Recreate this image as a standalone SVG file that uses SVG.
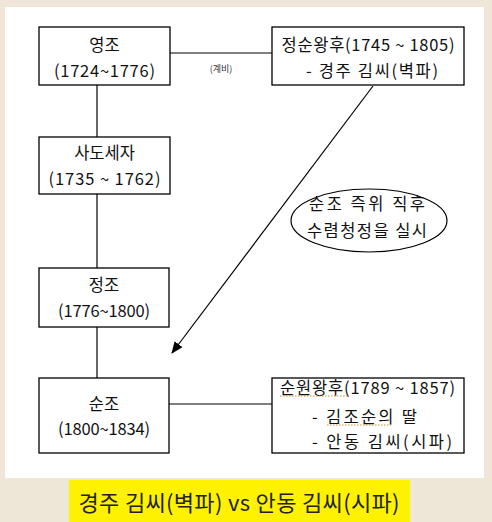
<svg xmlns="http://www.w3.org/2000/svg" width="492" height="522" viewBox="0 0 492 522">
<style>
.box{fill:#fff;stroke:#000;stroke-width:1.3}
.t{font-family:"Noto Sans CJK KR","Noto Sans",sans-serif;font-size:16.5px;fill:#111;text-anchor:middle}
.l{text-anchor:start}
.c{stroke:#000;stroke-width:1.2;fill:none}
.sq{stroke:#d08a30;stroke-width:1;stroke-dasharray:1.5 1.5;fill:none}
</style>
<defs>
<marker id="ah" markerWidth="12" markerHeight="10" refX="11" refY="5" orient="auto" markerUnits="userSpaceOnUse">
<path d="M0,0 L12,5 L0,10 Z" fill="#000"/>
</marker>
</defs>
<rect x="0" y="0" width="492" height="522" fill="#EEE6D6"/>
<rect x="5" y="7" width="479" height="471" fill="#fff"/>
<rect x="69" y="480" width="341" height="42" fill="#FFF200"/>
<text x="239" y="511" style="font-family:'Noto Sans CJK KR','Noto Sans',sans-serif;font-size:22px;fill:#222;text-anchor:middle" textLength="321">경주 김씨(벽파) vs 안동 김씨(시파)</text>

<g id="connectors">
<line class="c" x1="170" y1="53" x2="272" y2="53"/>
<line class="c" x1="97" y1="85" x2="97" y2="137"/>
<line class="c" x1="97" y1="194" x2="97" y2="268"/>
<line class="c" x1="97" y1="327" x2="97" y2="378"/>
<line class="c" x1="169" y1="404" x2="272" y2="404"/>
<line class="c" x1="373" y1="86" x2="172" y2="353" marker-end="url(#ah)"/>
<text x="221" y="72" style="font-family:'Noto Sans CJK KR','Noto Sans',sans-serif;font-size:9px;fill:#333;text-anchor:middle">(계비)</text>
</g>

<g id="yeongjo">
<rect class="box" x="39" y="27" width="131" height="58"/>
<text class="t" x="104.5" y="51">영조</text>
<text class="t" x="104.5" y="77" textLength="101">(1724~1776)</text>
</g>

<g id="jeongsun">
<rect class="box" x="272" y="27" width="192" height="58"/>
<text class="t" x="368" y="51" textLength="173">정순왕후(1745 ~ 1805)</text>
<text class="t" x="372" y="77" textLength="132">- 경주 김씨(벽파)</text>
</g>

<g id="sado">
<rect class="box" x="39" y="137" width="131" height="57"/>
<text class="t" x="104.5" y="159">사도세자</text>
<text class="t" x="104.5" y="185" textLength="112">(1735 ~ 1762)</text>
</g>

<g id="jeongjo">
<rect class="box" x="39" y="268" width="130" height="59"/>
<text class="t" x="104" y="291">정조</text>
<text class="t" x="104" y="317" textLength="92">(1776~1800)</text>
</g>

<g id="sunjo">
<rect class="box" x="39" y="378" width="130" height="75"/>
<text class="t" x="104" y="410">순조</text>
<text class="t" x="104" y="435" textLength="92">(1800~1834)</text>
</g>

<g id="sunwon">
<rect class="box" x="272" y="378" width="192" height="75"/>
<text class="t l" x="280" y="394" textLength="175">순원왕후(1789 ~ 1857)</text>
<text class="t l" x="312" y="423" textLength="105">- 김조순의 딸</text>
<text class="t l" x="312" y="448" textLength="140">- 안동 김씨(시파)</text>
<path class="sq" d="M280,396 L348,396"/>
<path class="sq" d="M327,425 L391,425"/>
</g>

<g id="note">
<ellipse cx="369" cy="220.5" rx="78" ry="31.5" fill="#fff" stroke="#000" stroke-width="1.2"/>
<text class="t" x="367" y="210" textLength="116">순조 즉위 직후</text>
<text class="t" x="367" y="237" textLength="120">수렴청정을 실시</text>
</g>
</svg>
